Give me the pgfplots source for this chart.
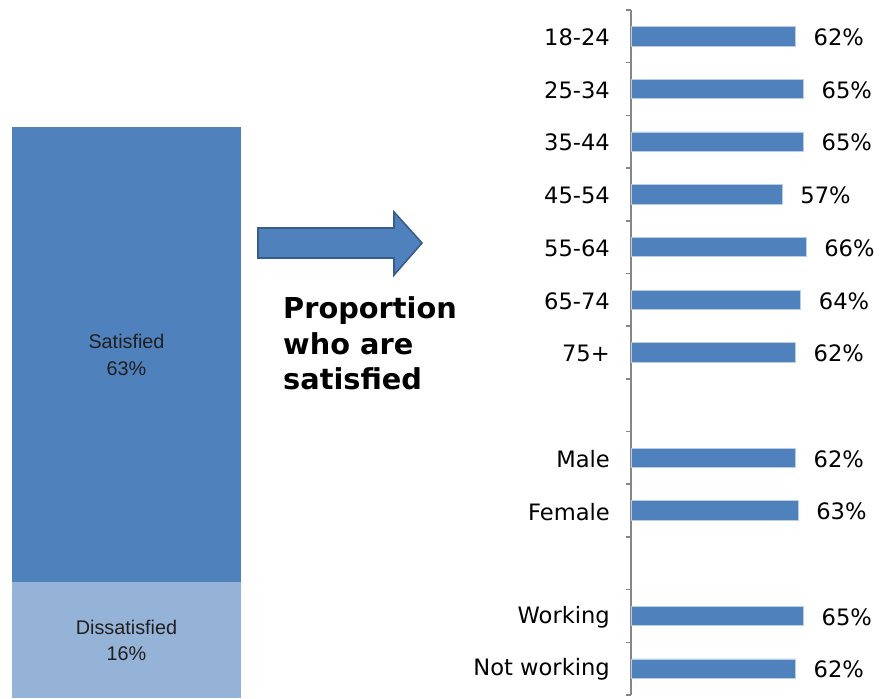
\documentclass[border=0pt]{standalone}
\usepackage{pgfplots}
\pgfplotsset{compat=1.18}
\usepackage{fontspec}
\setmainfont{DejaVu Sans}
\newfontfamily\arialfont{Liberation Sans}

\definecolor{barblue}{RGB}{79,129,189}
\definecolor{barlight}{RGB}{149,179,215}
\definecolor{baredge}{RGB}{185,205,229}
\definecolor{arrowedge}{RGB}{56,93,138}
\definecolor{axisgray}{RGB}{134,134,134}

\begin{document}
\begin{tikzpicture}[x=1pt,y=1pt]

% left stacked bar
\begin{axis}[
at={(12pt,0pt)}, anchor=south west,
scale only axis,
width=229pt, height=571pt,
hide axis,
ybar stacked,
bar width=229pt,
xmin=-0.5, xmax=0.5,
ymin=0, ymax=79,
clip=false,
]
\addplot[fill=barlight, draw=none] coordinates {(0,16)};
\addplot[fill=barblue, draw=none] coordinates {(0,63)};
\coordinate (dis) at (axis cs:0,8);
\coordinate (sat) at (axis cs:0,47.5);
\end{axis}
\node[align=center, font=\arialfont\fontsize{19.8}{26.5}\selectfont, text=black!88] at (dis) {Dissatisfied\\16\%};
\node[align=center, font=\arialfont\fontsize{19.8}{26.5}\selectfont, text=black!88] at (sat) {Satisfied\\63\%};

% arrow
\draw[fill=barblue, draw=arrowedge, line width=1.6pt, line join=miter]
  (258,440) -- (258,470) -- (394,470) -- (394,486) -- (422,455) -- (394,423) -- (394,440) -- cycle;

\node[anchor=base west, align=left, inner sep=0pt,
  font=\bfseries\fontsize{28.8}{35.5}\selectfont] at (283,308)
  {Proportion\\who are\\satisfied};

% right bar chart
\begin{axis}[
at={(631pt,3pt)}, anchor=south west,
scale only axis,
width=238.5pt, height=685pt,
xbar,
bar width=19.5pt,
xmin=0, xmax=90,
ymin=0, ymax=13,
axis x line=none,
axis y line*=left,
y axis line style={-, draw=axisgray, line width=1.9pt},
ytick={0.5,1.5,3.5,4.5,6.5,7.5,8.5,9.5,10.5,11.5,12.5},
yticklabels={Not working,Working,Female,Male,75+,65-74,55-64,45-54,35-44,25-34,18-24},
minor ytick={0,1,...,13},
major tick length=0pt,
minor tick length=5.5pt,
tick align=outside,
minor tick style={draw=axisgray, line width=1.6pt},
yticklabel style={font=\fontsize{22.6}{27}\selectfont, inner sep=0pt, xshift=-21pt, yshift=-1pt},
/pgf/number format/assume math mode=true,
nodes near coords={\pgfmathprintnumber{\pgfplotspointmeta}\%},
nodes near coords align={horizontal},
every node near coord/.append style={font=\fontsize{22.6}{27}\selectfont, inner sep=0pt, xshift=18pt, yshift=-1pt, text=black},
clip=false,
]
\addplot[fill=barblue, draw=baredge, line width=0.75pt] coordinates {
(62,0.5) (65,1.5)
(63,3.5) (62,4.5)
(62,6.5) (64,7.5) (66,8.5) (57,9.5) (65,10.5) (65,11.5) (62,12.5)
};
\end{axis}

\pgfresetboundingbox
\path[use as bounding box] (0,0) rectangle (882,698);
\end{tikzpicture}
\end{document}
